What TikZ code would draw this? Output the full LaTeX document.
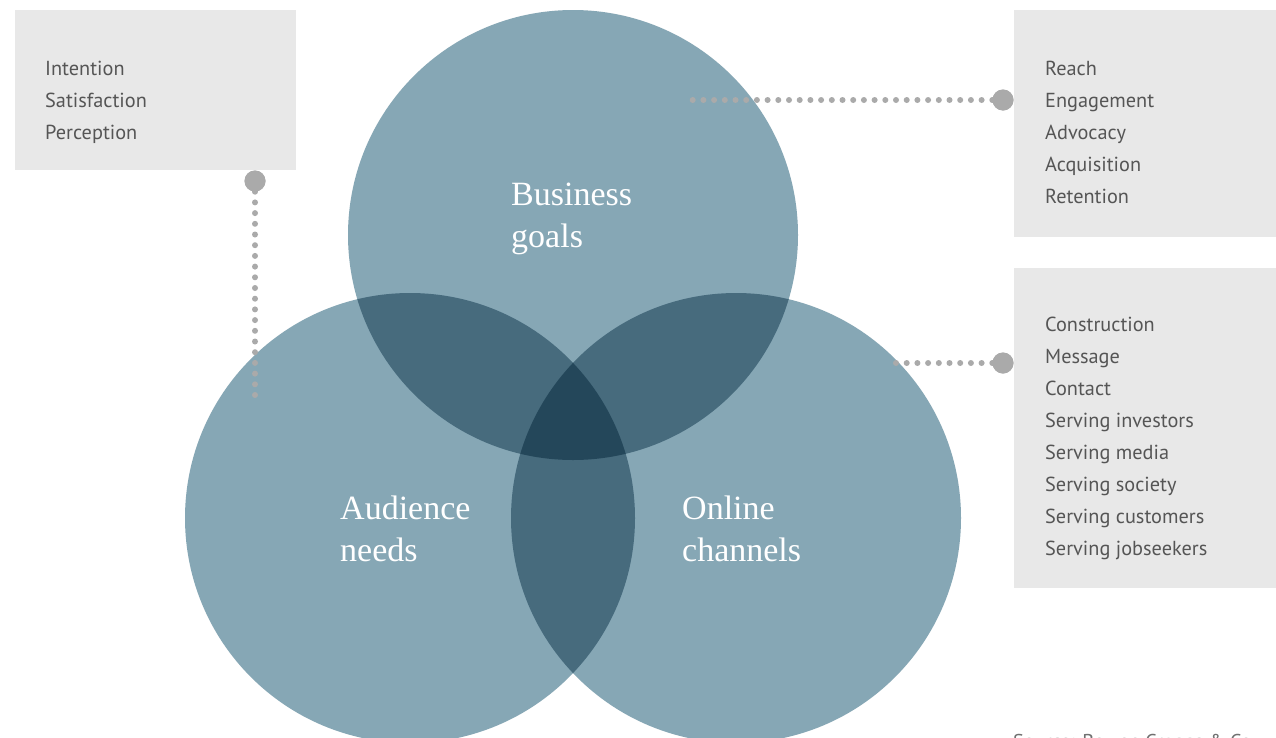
\documentclass[tikz,border=0pt]{standalone}
\usepackage{fontspec}
\setmainfont{Liberation Serif}
\newfontfamily\listfont{PT Sans}
\definecolor{clight}{HTML}{86A7B5}
\definecolor{cmid}{HTML}{476B7D}
\definecolor{cdark}{HTML}{24475A}
\definecolor{panelgray}{HTML}{E8E8E8}
\definecolor{listgray}{HTML}{555555}
\definecolor{dotgray}{HTML}{AAAAAA}
\definecolor{srcgray}{HTML}{707070}
\tikzset{
  panel/.style={fill=panelgray, draw=none, anchor=north west, inner sep=0pt},
  listtext/.style={anchor=base west, inner sep=0pt, text=listgray, font=\listfont\fontsize{20.3}{32}\selectfont},
  circtext/.style={anchor=base west, inner sep=0pt, text=white, font=\fontsize{34}{42}\selectfont},
  dotline/.style={draw=dotgray, line width=6pt, line cap=round, dash pattern=on 0pt off 10.7pt},
  bigdot/.style={circle, fill=dotgray, minimum size=21pt, inner sep=0pt},
}
\begin{document}
\begin{tikzpicture}[x=1pt,y=-1pt]
\useasboundingbox (0,0) rectangle (1276,737);
\fill[white] (0,0) rectangle (1276,737);
% circles
\coordinate (cb) at (573,235);
\coordinate (ca) at (410,518);
\coordinate (co) at (736,518);
\fill[clight] (cb) circle[radius=225pt];
\fill[clight] (ca) circle[radius=225pt];
\fill[clight] (co) circle[radius=225pt];
\begin{scope}
  \clip (cb) circle[radius=225pt];
  \fill[cmid] (ca) circle[radius=225pt];
  \fill[cmid] (co) circle[radius=225pt];
\end{scope}
\begin{scope}
  \clip (ca) circle[radius=225pt];
  \fill[cmid] (co) circle[radius=225pt];
\end{scope}
\begin{scope}
  \clip (cb) circle[radius=225pt];
  \clip (ca) circle[radius=225pt];
  \fill[cdark] (co) circle[radius=225pt];
\end{scope}
% circle labels
\node[circtext] (tb) at (511,205) {\parbox[t]{200pt}{Business\\goals}};
\node[circtext] (ta) at (340,519) {\parbox[t]{200pt}{Audience\\needs}};
\node[circtext] (to) at (682,519) {\parbox[t]{200pt}{Online\\channels}};
% panels
\node[panel, minimum width=281pt, minimum height=160pt] (lbox) at (15,10) {};
\node[panel, minimum width=262pt, minimum height=227pt] (rbox1) at (1014,10) {};
\node[panel, minimum width=262pt, minimum height=320pt] (rbox2) at (1014,268) {};
\node[listtext] (l1) at (45,75) {\parbox[t]{240pt}{Intention\\Satisfaction\\Perception}};
\node[listtext] (l2) at (1045,75) {\parbox[t]{225pt}{Reach\\Engagement\\Advocacy\\Acquisition\\Retention}};
\node[listtext] (l3) at (1045,331) {\parbox[t]{225pt}{Construction\\Message\\Contact\\Serving investors\\Serving media\\Serving society\\Serving customers\\Serving jobseekers}};
% connectors
\coordinate (e1) at (255,396);
\coordinate (e2) at (690,100);
\coordinate (e3) at (888,363);
\node[bigdot] (d1) at (255,181) {};
\node[bigdot] (d2) at (1003,100) {};
\node[bigdot] (d3) at (1003,363) {};
\draw[dotline] (d1.center) -- (e1);
\draw[dotline] (d2.center) -- (e2);
\draw[dotline] (d3.center) -- (e3);
\node[bigdot] at (d1) {};
\node[bigdot] at (d2) {};
\node[bigdot] at (d3) {};
% source
\node[anchor=base west, inner sep=0pt, text=srcgray, font=\listfont\fontsize{20}{24}\selectfont] (src) at (1013,748) {Source: Bowen Craggs \& Co};
\end{tikzpicture}
\end{document}
